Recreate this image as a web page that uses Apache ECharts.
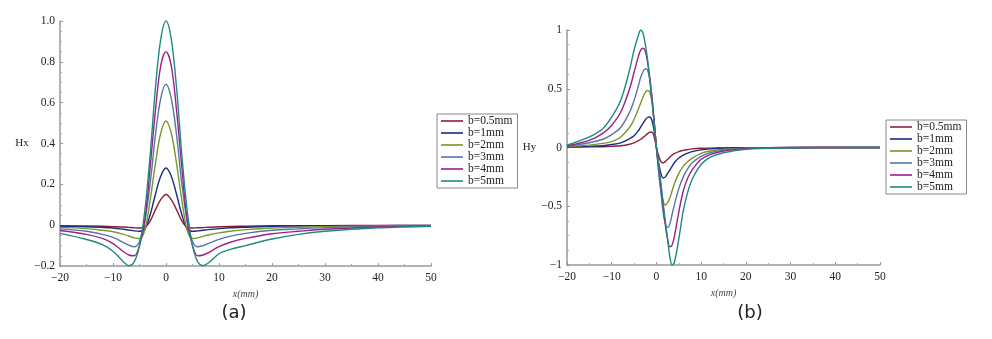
<!DOCTYPE html>
<html>
<head>
<meta charset="utf-8">
<title>Hx / Hy</title>
<script src="https://cdn.jsdelivr.net/npm/echarts@6/dist/echarts.min.js"></script>
<style>
  html, body { margin: 0; padding: 0; background: #fff; }
  #chart { width: 992px; height: 339px; }
</style>
</head>
<body>
<div id="chart"></div>
<script>
// legend names / colours per b
const names = ['b=0.5mm', 'b=1mm', 'b=2mm', 'b=3mm', 'b=4mm', 'b=5mm']
const colors = ['#8e1f36', '#1c2a80', '#76982a', '#5875a6', '#9c1f8c', '#1f8a80']

// (a) Hx
const hxX = [-20, -15, -12, -10, -8, -7, -6, -5, -4, -3, -2, -1, 0, 1, 2, 3, 4, 5, 6, 7, 8, 10, 12, 15, 20, 25, 30, 40, 50]
const hxB05 = [-0.003, -0.004, -0.005, -0.007, -0.009, -0.011, -0.013, -0.014, -0.01, 0.02, 0.075, 0.125, 0.15, 0.125, 0.075, 0.02, -0.01, -0.014, -0.013, -0.012, -0.01, -0.008, -0.006, -0.005, -0.003, -0.002, -0.002, -0.001, -0.001]
const hxB1 = [-0.005, -0.008, -0.011, -0.014, -0.02, -0.024, -0.028, -0.03, -0.02, 0.05, 0.15, 0.24, 0.28, 0.24, 0.15, 0.05, -0.02, -0.03, -0.028, -0.025, -0.022, -0.017, -0.013, -0.01, -0.006, -0.004, -0.003, -0.002, -0.001]
const hxB2 = [-0.011, -0.017, -0.025, -0.032, -0.045, -0.053, -0.062, -0.065, -0.025, 0.12, 0.3, 0.45, 0.51, 0.45, 0.3, 0.12, -0.025, -0.065, -0.062, -0.055, -0.048, -0.038, -0.03, -0.022, -0.014, -0.01, -0.007, -0.004, -0.002]
const hxB3 = [-0.018, -0.03, -0.045, -0.06, -0.085, -0.098, -0.106, -0.08, 0.02, 0.2, 0.44, 0.62, 0.69, 0.62, 0.44, 0.2, 0.02, -0.08, -0.106, -0.1, -0.09, -0.07, -0.055, -0.04, -0.025, -0.018, -0.012, -0.006, -0.003]
const hxB4 = [-0.026, -0.045, -0.065, -0.09, -0.13, -0.146, -0.15, -0.1, 0.02, 0.28, 0.56, 0.78, 0.85, 0.78, 0.56, 0.28, 0.02, -0.1, -0.15, -0.146, -0.135, -0.105, -0.085, -0.065, -0.042, -0.03, -0.02, -0.009, -0.004]
const hxB5 = [-0.04, -0.07, -0.095, -0.128, -0.18, -0.198, -0.18, -0.1, 0.07, 0.34, 0.67, 0.91, 1.0, 0.91, 0.67, 0.34, 0.07, -0.1, -0.18, -0.198, -0.185, -0.14, -0.12, -0.1, -0.068, -0.045, -0.03, -0.013, -0.005]

// (b) Hy
const hyX = [-20, -15, -12, -10, -8, -6, -5, -4, -3.5, -3, -2.5, -2, -1.5, -1, -0.5, 0, 0.5, 1, 1.5, 2, 2.5, 3, 3.5, 4, 5, 6, 7, 8, 10, 12, 15, 20, 30, 40, 50]
const hyB05 = [0.003, 0.005, 0.007, 0.01, 0.015, 0.028, 0.04, 0.058, 0.07, 0.085, 0.1, 0.118, 0.13, 0.13, 0.09, 0, -0.07, -0.12, -0.13, -0.12, -0.1, -0.08, -0.065, -0.052, -0.035, -0.025, -0.018, -0.012, -0.007, -0.005, -0.003, -0.002, 0, 0, 0]
const hyB1 = [0.005, 0.01, 0.015, 0.025, 0.04, 0.075, 0.1, 0.145, 0.175, 0.205, 0.235, 0.255, 0.26, 0.23, 0.14, 0, -0.13, -0.22, -0.26, -0.25, -0.22, -0.19, -0.16, -0.13, -0.09, -0.065, -0.048, -0.035, -0.02, -0.012, -0.007, -0.003, 0, 0, 0]
const hyB2 = [0.008, 0.02, 0.035, 0.05, 0.09, 0.17, 0.24, 0.33, 0.38, 0.43, 0.47, 0.485, 0.47, 0.39, 0.22, 0, -0.2, -0.36, -0.46, -0.49, -0.47, -0.43, -0.37, -0.31, -0.22, -0.16, -0.12, -0.09, -0.05, -0.03, -0.015, -0.005, -0.001, 0, 0]
const hyB3 = [0.01, 0.04, 0.07, 0.11, 0.17, 0.3, 0.4, 0.53, 0.6, 0.645, 0.67, 0.66, 0.58, 0.43, 0.22, 0, -0.2, -0.38, -0.55, -0.65, -0.68, -0.65, -0.57, -0.49, -0.35, -0.25, -0.18, -0.13, -0.075, -0.045, -0.022, -0.008, -0.002, 0, 0]
const hyB4 = [0.015, 0.06, 0.12, 0.19, 0.3, 0.5, 0.64, 0.78, 0.83, 0.845, 0.82, 0.73, 0.6, 0.42, 0.21, 0, -0.17, -0.33, -0.5, -0.66, -0.78, -0.845, -0.83, -0.76, -0.55, -0.37, -0.26, -0.19, -0.1, -0.06, -0.03, -0.01, -0.002, 0, 0]
const hyB5 = [0.02, 0.09, 0.16, 0.26, 0.4, 0.66, 0.83, 0.96, 1.0, 0.97, 0.88, 0.755, 0.58, 0.4, 0.2, 0, -0.15, -0.3, -0.47, -0.63, -0.78, -0.93, -1.0, -0.98, -0.78, -0.54, -0.38, -0.27, -0.145, -0.085, -0.045, -0.015, -0.004, -0.001, 0]

const hxData = [hxB05, hxB1, hxB2, hxB3, hxB4, hxB5]
const hyData = [hyB05, hyB1, hyB2, hyB3, hyB4, hyB5]

const serif = '"Liberation Serif", "DejaVu Serif", serif'

function minus(s) {
  return String(s).replace('-', '\u2212')
}

function xAxisOf(gridIndex) {
  return {
    type: 'value',
    gridIndex: gridIndex,
    min: -20,
    max: 50,
    interval: 10,
    name: 'x(mm)',
    nameLocation: 'middle',
    nameGap: 17,
    nameTextStyle: { fontFamily: serif, fontStyle: 'italic', fontSize: 10, color: '#444' },
    axisLine: { onZero: false, lineStyle: { color: '#999', width: 1.5 } },
    axisTick: { inside: true, length: 3, lineStyle: { color: '#999' } },
    minorTick: { show: true, splitNumber: 2, length: 2, lineStyle: { color: '#aaa' } },
    splitLine: { show: false },
    axisLabel: {
      margin: 6,
      fontFamily: serif,
      fontSize: 11.5,
      color: '#222',
      formatter: v => minus(v)
    }
  }
}

function yAxisOf(gridIndex, min, max, interval, name, gap, fmt) {
  return {
    type: 'value',
    gridIndex: gridIndex,
    min: min,
    max: max,
    interval: interval,
    name: name,
    nameLocation: 'middle',
    nameRotate: 0,
    nameGap: gap,
    nameTextStyle: { fontFamily: serif, fontSize: 11, color: '#222', align: 'center', verticalAlign: 'middle' },
    axisLine: { show: true, onZero: false, lineStyle: { color: '#999', width: 1.5 } },
    axisTick: { inside: true, length: 3, lineStyle: { color: '#999' } },
    minorTick: { show: true, splitNumber: 4, length: 2, lineStyle: { color: '#aaa' } },
    splitLine: { show: false },
    axisLabel: {
      margin: 5,
      fontFamily: serif,
      fontSize: 11.5,
      color: '#222',
      formatter: fmt
    }
  }
}

function legendOf(left, top) {
  return {
    left: left,
    top: top,
    orient: 'vertical',
    data: names,
    icon: 'rect',
    itemWidth: 22,
    itemHeight: 1.6,
    itemGap: 0,
    padding: [1, 5, 1, 4],
    borderColor: '#888',
    borderWidth: 1,
    selectedMode: false,
    textStyle: { fontFamily: serif, fontSize: 11.5, lineHeight: 12, color: '#222' }
  }
}

const series = []
names.forEach((n, i) => {
  series.push({
    name: n,
    type: 'line',
    xAxisIndex: 0,
    yAxisIndex: 0,
    smooth: 0.35,
    symbol: 'none',
    lineStyle: { width: 1.4, color: colors[i] },
    itemStyle: { color: colors[i] },
    data: hxX.map((x, k) => [x, hxData[i][k]])
  })
})
names.forEach((n, i) => {
  series.push({
    name: n,
    type: 'line',
    xAxisIndex: 1,
    yAxisIndex: 1,
    smooth: 0.35,
    symbol: 'none',
    lineStyle: { width: 1.4, color: colors[i] },
    itemStyle: { color: colors[i] },
    data: hyX.map((x, k) => [x, hyData[i][k]])
  })
})

const chart = echarts.init(document.getElementById('chart'), null, { renderer: 'canvas' })
chart.setOption({
  animation: false,
  backgroundColor: '#fff',
  title: [
    { text: '(a)', left: 229, top: 299, textAlign: 'center', textStyle: { fontFamily: '"DejaVu Sans", sans-serif', fontWeight: 'normal', fontSize: 18, color: '#222' } },
    { text: '(b)', left: 745, top: 299, textAlign: 'center', textStyle: { fontFamily: '"DejaVu Sans", sans-serif', fontWeight: 'normal', fontSize: 18, color: '#222' } }
  ],
  legend: [legendOf(437, 114), legendOf(886, 120)],
  grid: [
    { left: 60, top: 21, width: 371, height: 245 },
    { left: 567, top: 30, width: 313, height: 235 }
  ],
  xAxis: [xAxisOf(0), xAxisOf(1)],
  yAxis: [
    yAxisOf(0, -0.2, 1.0, 0.2, 'Hx', 38, v => Math.abs(v) < 1e-9 ? '0' : minus(v.toFixed(1))),
    yAxisOf(1, -1, 1, 0.5, 'Hy', 37, v => Math.abs(v) < 1e-9 ? '0' : minus(v))
  ],
  series: series
})
</script>
</body>
</html>
